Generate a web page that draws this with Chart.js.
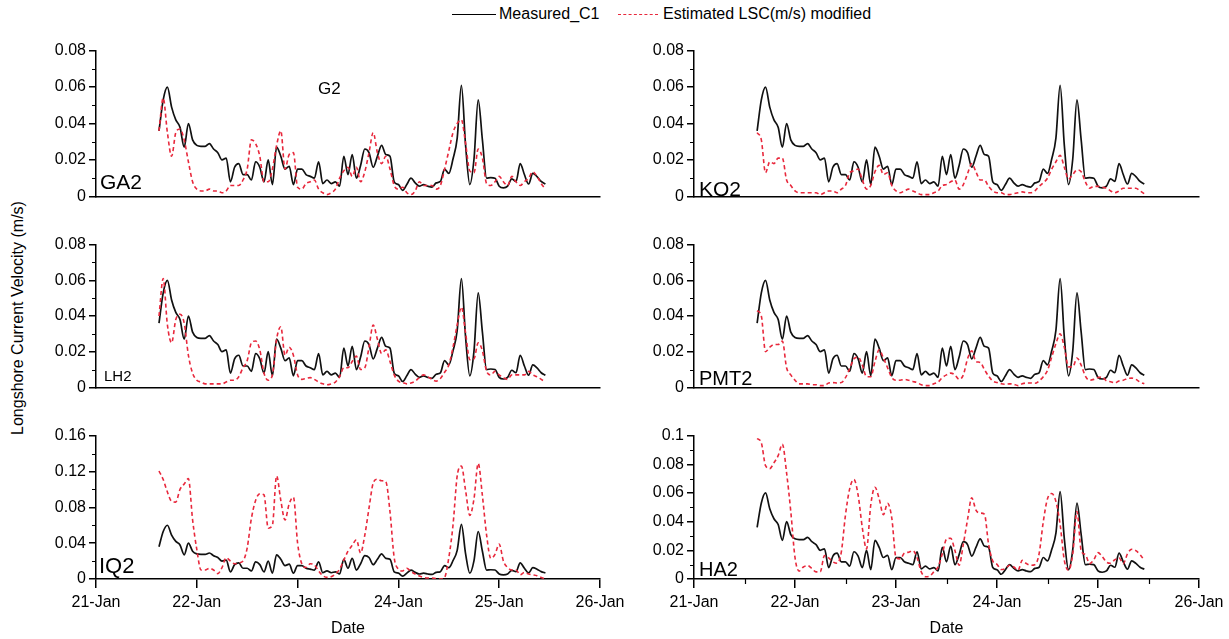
<!DOCTYPE html>
<html>
<head>
<meta charset="utf-8">
<script src="https://cdn.jsdelivr.net/npm/chart.js@4.4.1/dist/chart.umd.min.js"></script>
<style>
  body { margin: 0; background: #fff; width: 1229px; height: 639px; position: relative; overflow: hidden;
         font-family: 'Liberation Sans', Arial, sans-serif; color: #000; }
  canvas { position: absolute; }
  .tag { position: absolute; white-space: nowrap; line-height: 1; }
  .narrow { font-family: 'Liberation Sans Narrow', 'Arial Narrow', 'Liberation Sans', sans-serif; }
  #ytitle { position: absolute; left: 18px; top: 318px; font-size: 16px; white-space: nowrap;
            transform: translate(-50%, -50%) rotate(-90deg); }
  #legend { position: absolute; left: 452px; top: 5px; height: 20px; font-size: 16px; }
  #legend span { position: absolute; top: 0; white-space: nowrap; }
  .sw { position: absolute; top: 9px; width: 44px; }
</style>
</head>
<body>
<div id="legend" class="narrow">
  <div class="sw" style="left:0; border-top:1.6px solid #000;"></div>
  <span style="left:47px;">Measured_C1</span>
  <div class="sw" style="left:166px; width:40px; border-top:1.6px dashed #e8283c;"></div>
  <span style="left:211px;">Estimated LSC(m/s) <span style="position:static;font-family:'Liberation Sans',Arial,sans-serif;">modified</span></span>
</div>
<div id="ytitle">Longshore Current Velocity (m/s)</div>

<canvas id="ga2" width="590" height="171" style="left:40px; top:38px;"></canvas>
<canvas id="ko2" width="591" height="171" style="left:638px; top:38px;"></canvas>
<canvas id="lh2" width="590" height="168" style="left:40px; top:232px;"></canvas>
<canvas id="pmt2" width="591" height="168" style="left:638px; top:232px;"></canvas>
<canvas id="iq2" width="590" height="216" style="left:40px; top:423px;"></canvas>
<canvas id="ha2" width="591" height="216" style="left:638px; top:423px;"></canvas>

<div class="tag" style="left:100px; top:171px; font-size:21px;">GA2</div>
<div class="tag" style="left:318px; top:80px; font-size:17px;">G2</div>
<div class="tag" style="left:699px; top:178px; font-size:21px;">KO2</div>
<div class="tag" style="left:104px; top:368px; font-size:15px;">LH2</div>
<div class="tag" style="left:699px; top:368px; font-size:20px;">PMT2</div>
<div class="tag" style="left:99px; top:555px; font-size:22px;">IQ2</div>
<div class="tag" style="left:699px; top:559px; font-size:20px;">HA2</div>

<script>
// hourly samples starting 21-Jan 15:00
var startDay = 21.625;
var stepDay = 1 / 24;

// measured longshore current (same record in every panel)
var measured = [
  .036, .053, .060, .049, .042, .038, .027, .040, .031, .028,
  .0275, .0275, .029, .026, .024, .020, .021, .008, .016, .018,
  .012, .012, .009, .019, .016, .008, .020, .0065, .027, .022,
  .015, .0165, .0065, .015, .015, .012, .011, .010, .019, .007,
  .009, .007, .008, .0056, .022, .012, .023, .010, .017, .026,
  .024, .016, .022, .028, .023, .022, .008, .0065, .0033, .0065,
  .010, .0074, .0056, .0065, .0056, .0051, .0074, .0082, .015, .0126,
  .0205, .032, .061, .028, .0065, .0205, .053, .031, .010, .0103,
  .010, .0056, .0047, .0056, .0096, .0082, .018, .012, .0068, .0126,
  .0109, .0082, .0068
];

// estimated LSC per station
var ga2 = [
  .036, .054, .035, .022, .035, .037, .031, .019, .008, .004,
  .003, .003, .004, .003, .003, .002, .003, .006, .006, .006,
  .009, .015, .031, .029, .022, .008, .008, .015, .028, .036,
  .015, .023, .024, .005, .004, .007, .008, .009, .004, .002,
  .001, .002, .004, .010, .014, .016, .011, .016, .008, .0135,
  .024, .035, .024, .018, .022, .015, .006, .004, .005, .002,
  .001, .003, .008, .006, .006, .006, .004, .006, .015, .025,
  .035, .040, .042, .029, .014, .013, .026, .021, .007, .006,
  .008, .011, .008, .006, .011, .008, .006, .008, .010, .0135,
  .011, .007, .004
];
var ko2 = [
  .035, .031, .013, .019, .018, .021, .021, .009, .006, .003,
  .002, .002, .002, .002, .002, .001, .002, .003, .003, .002,
  .004, .006, .013, .014, .015, .009, .004, .006, .0135, .017,
  .012, .013, .006, .003, .002, .003, .004, .003, .002, .001,
  .001, .001, .002, .003, .006, .0065, .008, .009, .004, .0065,
  .0125, .018, .0135, .009, .009, .0055, .003, .002, .002, .001,
  .001, .0015, .002, .0025, .002, .002, .003, .0055, .0075, .010,
  .015, .019, .0225, .016, .0095, .012, .0145, .0135, .008, .0045,
  .0055, .0055, .005, .0045, .003, .002, .003, .0045, .0045, .0045,
  .0045, .003, .0015
];
var lh2 = [
  .040, .061, .035, .025, .038, .041, .036, .018, .008, .004,
  .003, .002, .002, .002, .002, .002, .003, .004, .004, .006,
  .011, .015, .025, .026, .021, .008, .004, .007, .027, .034,
  .018, .0225, .018, .007, .0045, .005, .0055, .0045, .003, .002,
  .0015, .002, .003, .006, .011, .011, .0145, .0175, .010, .011,
  .0225, .035, .027, .019, .021, .0145, .007, .0035, .0027, .002,
  .0025, .0035, .0055, .007, .006, .0045, .0035, .005, .0085, .0125,
  .0225, .035, .045, .0305, .0155, .016, .025, .0205, .009, .007,
  .009, .007, .0055, .0045, .007, .007, .007, .007, .009, .007,
  .006, .0045, .003
];
var pmt2 = [
  .043, .040, .020, .0225, .024, .024, .026, .011, .007, .004,
  .002, .002, .002, .0015, .0015, .001, .001, .0025, .0027, .0025,
  .0027, .0055, .0105, .016, .017, .0125, .006, .006, .0145, .021,
  .0165, .011, .0055, .004, .004, .0045, .004, .0033, .0027, .0015,
  .001, .001, .002, .003, .0055, .007, .008, .007, .0045, .007,
  .016, .0205, .0145, .014, .010, .0063, .0035, .0027, .002, .0018,
  .002, .0018, .001, .002, .0025, .0025, .0023, .0036, .006, .0095,
  .017, .0245, .030, .0225, .0115, .0115, .0165, .0125, .0063, .004,
  .0045, .0055, .0058, .0036, .0032, .0025, .0036, .004, .005, .0052,
  .0045, .003, .002
];
var iq2 = [
  .1205, .111, .097, .0866, .0858, .100, .106, .112, .066, .033,
  .010, .010, .012, .010, .006, .0128, .0237, .020, .017, .018,
  .020, .0347, .0676, .0877, .095, .094, .0566, .060, .115, .0877,
  .0658, .084, .0913, .040, .017, .0128, .017, .0157, .009, .0037,
  .0018, .0026, .0055, .011, .021, .031, .0376, .0438, .029, .049,
  .079, .107, .1114, .1096, .1085, .075, .0237, .011, .009, .012,
  .0084, .0055, .0033, .0018, .0011, .0011, .0004, 0, .0018, .0237,
  .060, .115, .126, .0986, .071, .0895, .129, .093, .049, .023,
  .0274, .039, .020, .0128, .010, .010, .0047, .0073, .0055, .0047,
  .0037, .0018, 0
];
var ha2 = [
  .098, .095, .079, .077, .081, .086, .094, .074, .047, .015,
  .0055, .0084, .0093, .0073, .005, .005, .0164, .0148, .012, .011,
  .0187, .0448, .063, .0694, .0585, .0357, .0209, .0516, .064, .056,
  .0448, .0528, .0425, .015, .014, .018, .0187, .0198, .015, .005,
  .0016, .002, .005, .0084, .0175, .0278, .0284, .0198, .0096, .0243,
  .0414, .0567, .048, .046, .0453, .0243, .0125, .0102, .0066, .0073,
  .0096, .0084, .0061, .013, .0107, .0096, .01, .0175, .040, .056,
  .0596, .054, .038, .013, .0061, .0175, .047, .0198, .017, .0107,
  .0134, .0184, .0157, .0118, .011, .0134, .0148, .0107, .0175, .0207,
  .0198, .017, .013
];

var dayTicks = [21, 22, 23, 24, 25, 26];
var narrow = "'Liberation Sans Narrow', 'Arial Narrow', 'Liberation Sans', sans-serif";

Chart.defaults.color = '#000';
Chart.defaults.font.family = "'Liberation Sans', Arial, sans-serif";

// short ticks half way between the labelled ones
var minorTicks = {
  id: 'minorTicks',
  afterDraw: function(chart, args, opts) {
    var ctx = chart.ctx;
    ctx.save();
    ctx.strokeStyle = '#000';
    ctx.lineWidth = 1.2;
    ['x', 'y'].forEach(function(k) {
      var step = opts[k];
      var sc = chart.scales[k];
      if (!step || !sc) return;
      ctx.beginPath();
      for (var v = sc.min + step; v < sc.max - 1e-9; v += 2 * step) {
        var p = Math.round(sc.getPixelForValue(v)) + 0.5;
        if (k === 'y') { ctx.moveTo(sc.right - 4, p); ctx.lineTo(sc.right, p); }
        else { ctx.moveTo(p, sc.top); ctx.lineTo(p, sc.top + 5); }
      }
      ctx.stroke();
    });
    ctx.restore();
  }
};

var toPoints = function(vals) {
  return vals.map(function(v, i) { return { x: startDay + i * stepDay, y: v }; });
};

var panel = function(id, est, yMax, yStep, withDates, xMinor) {
  var xAxis = {
    type: 'linear', min: 21, max: 26,
    border: { display: true, color: '#000', width: 1.5 },
    grid: { drawOnChartArea: false, drawTicks: withDates, tickLength: 9, color: '#000', lineWidth: 1.5 },
    afterBuildTicks: function(sc) { sc.ticks = dayTicks.map(function(d) { return { value: d }; }); },
    ticks: {
      display: withDates, autoSkip: false, maxRotation: 0, padding: 5,
      font: { size: 16 },
      callback: function(v) { return v + '-Jan'; }
    },
    title: { display: withDates, text: 'Date', font: { size: 16 }, padding: { top: 0, bottom: 1 } },
    afterFit: function(sc) { sc.height = withDates ? 60 : 10; }
  };
  var yAxis = {
    min: 0, max: yMax,
    border: { display: true, color: '#000', width: 1.5 },
    grid: { drawOnChartArea: false, tickLength: 7, color: '#000', lineWidth: 1.5 },
    ticks: {
      stepSize: yStep, padding: 3,
      font: { family: narrow, size: 16 },
      callback: function(v) { return v === 0 ? '0' : String(+v.toFixed(2)); }
    },
    afterFit: function(sc) { sc.width = 56; }
  };
  return new Chart(document.getElementById(id), {
    type: 'line',
    data: {
      datasets: [
        { data: toPoints(est), borderColor: '#e8283c', borderWidth: 1.6, borderDash: [4, 3],
          pointRadius: 0, cubicInterpolationMode: 'monotone' },
        { data: toPoints(measured), borderColor: '#111', borderWidth: 1.7,
          pointRadius: 0, cubicInterpolationMode: 'monotone' }
      ]
    },
    options: {
      responsive: false, animation: false, events: [],
      layout: { padding: { top: 10, right: 30, left: 0, bottom: 0 } },
      scales: { x: xAxis, y: yAxis },
      plugins: {
        legend: { display: false }, tooltip: { enabled: false },
        minorTicks: { y: yStep / 2, x: xMinor }
      }
    },
    plugins: [minorTicks]
  });
};

panel('ga2', ga2, 0.08, 0.02, false, null);
panel('ko2', ko2, 0.08, 0.02, false, null);
panel('lh2', lh2, 0.08, 0.02, false, null);
panel('pmt2', pmt2, 0.08, 0.02, false, null);
panel('iq2', iq2, 0.16, 0.04, true, null);
panel('ha2', ha2, 0.1, 0.02, true, 0.5);
</script>
</body>
</html>
